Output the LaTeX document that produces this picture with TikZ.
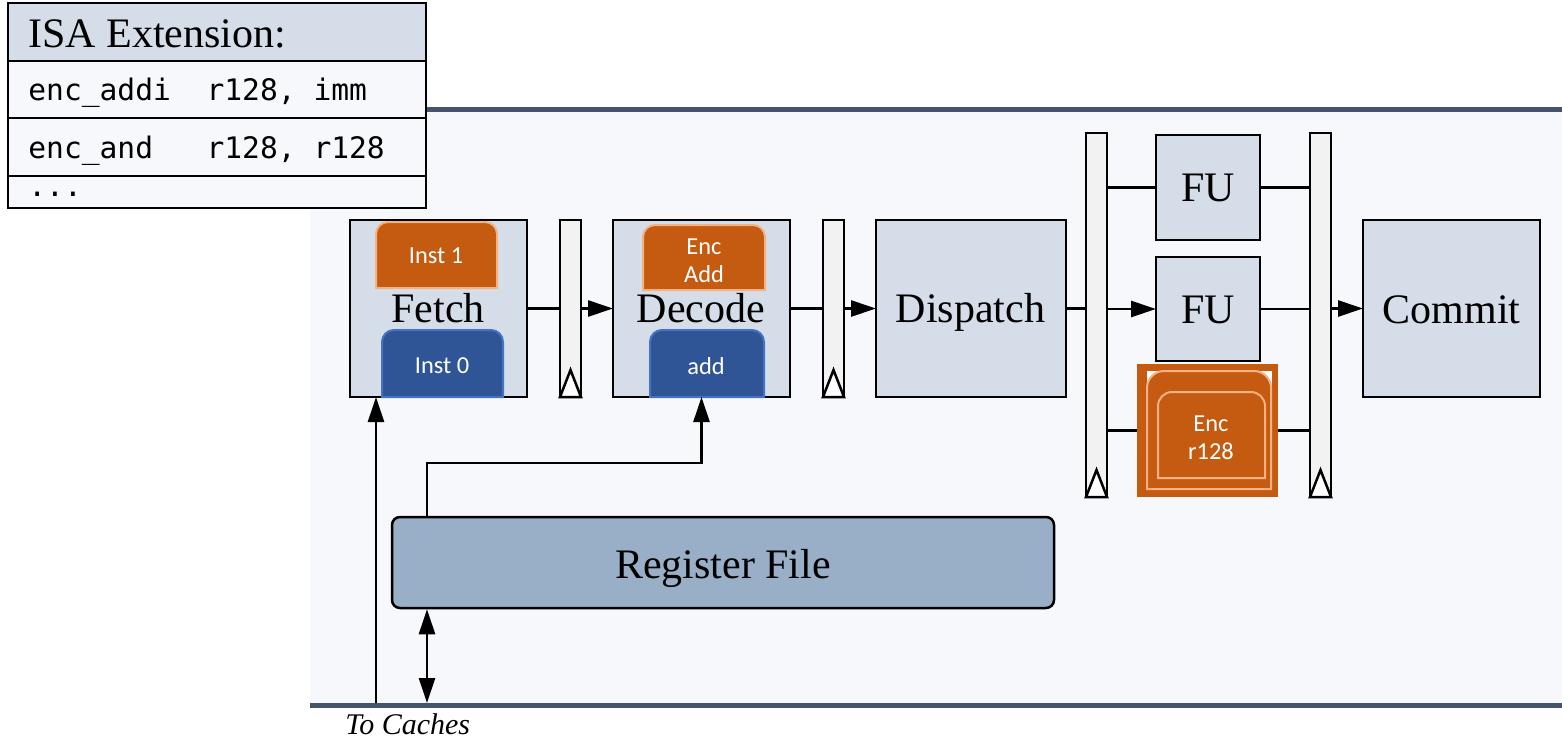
\documentclass[tikz,border=0pt]{standalone}
\usepackage{fontspec}
\setmainfont{Liberation Serif}
\newfontfamily\sansf{Carlito}
\newfontfamily\monof{DejaVu Sans Mono}
\usetikzlibrary{arrows.meta}
\definecolor{panel}{HTML}{F7F8FC}
\definecolor{stagef}{HTML}{D5DEE8}
\definecolor{slate}{HTML}{44546A}
\definecolor{regf}{HTML}{98AFC7}
\definecolor{latchf}{HTML}{F2F2F2}
\definecolor{orng}{HTML}{C55A11}
\definecolor{orngl}{HTML}{F4B183}
\definecolor{blu}{HTML}{2F5597}
\definecolor{blul}{HTML}{4472C4}
\newcommand\tabshape[5]{(#1,#4) -- (#1,#2+#5) arc[start angle=180,end angle=270,radius=#5] -- (#3-#5,#2) arc[start angle=270,end angle=360,radius=#5] -- (#3,#4)}
\begin{document}
\begin{tikzpicture}[x=0.5pt,y=-0.5pt,
 stage/.style={draw=black, fill=stagef, line width=1.25pt, inner sep=0, outer sep=0},
 latch/.style={draw=black, fill=latchf, line width=1.25pt, inner sep=0, outer sep=0, minimum width=10.5pt},
 lbl/.style={font=\fontsize{21}{25}\selectfont, inner sep=0, anchor=base},
 slbl/.style={font=\sansf\fontsize{12.2}{14}\selectfont, text=white, inner sep=0, align=center},
 mono/.style={font=\monof\fontsize{14.8}{17}\selectfont, inner sep=0, anchor=base west},
 tip/.style={line width=1.25pt},
 arr/.style={-{Triangle[length=12.5pt,width=8pt]}, line width=1.3pt},
 darr/.style={{Triangle[length=12.5pt,width=8pt]}-{Triangle[length=12.5pt,width=8pt]}, line width=1.3pt},
 wire/.style={line width=1.3pt},
 orshape/.style={fill=orng, draw=orngl, line width=1pt},
 blshape/.style={fill=blu, draw=blul, line width=1pt}]
\useasboundingbox (0,0) rectangle (1562,739);
\fill[white] (0,0) rectangle (1562,739);
% panel
\fill[panel] (310,109) rectangle (1562,705);
\draw[slate, line width=2.5pt] (310,109) -- (1562,109);
\draw[slate, line width=2.5pt] (310,705) -- (1562,705);
% stages
\node[stage, minimum width=88.5pt, minimum height=88.5pt] (fetch) at (438.5,308.5) {};
\node[stage, minimum width=88.5pt, minimum height=88.5pt] (decode) at (701.5,308.5) {};
\node[stage, minimum width=95pt, minimum height=88.5pt] (dispatch) at (971,308.5) {};
\node[stage, minimum width=88.5pt, minimum height=88.5pt] (commit) at (1451.5,308.5) {};
\node[stage, minimum width=52pt, minimum height=52.5pt] (fu1) at (1208,187.5) {};
\node[stage, minimum width=52pt, minimum height=52pt] (fu2) at (1208,309) {};
% latches
\node[latch, minimum height=88.5pt] (latch1) at (570.5,308.5) {};
\node[latch, minimum height=88.5pt] (latch2) at (833.5,308.5) {};
\node[latch, minimum height=182pt] (latch3) at (1096.5,315) {};
\node[latch, minimum height=182pt] (latch4) at (1320.5,315) {};
\foreach \l in {latch1,latch2,latch3,latch4}
  \filldraw[fill=white, tip] (\l.south west) -- ([yshift=13.5pt]\l.south) -- (\l.south east) -- cycle;
% register file
\node[draw=black, fill=regf, rounded corners=4pt, minimum width=331pt, minimum height=45.5pt, line width=1.25pt, inner sep=0] (reg) at (723,562.5) {};
% labels
\node[lbl] (fetcht) at (438,322) {Fetch};
\node[lbl] (decodet) at (701,322) {Decode};
\node[lbl] (dispatcht) at (970.5,322) {Dispatch};
\node[lbl] (committ) at (1451.5,323) {Commit};
\node[lbl] (fu1t) at (1208,201) {FU};
\node[lbl] (fu2t) at (1208,323) {FU};
\node[lbl] (regt) at (723,578) {Register File};
% instruction tabs
\filldraw[orshape] \tabshape{376}{222}{497}{288}{12} -- cycle;
\filldraw[blshape] \tabshape{382}{330}{503}{397}{12} -- cycle;
\filldraw[orshape] \tabshape{643}{225}{765}{290}{12} -- cycle;
\filldraw[blshape] \tabshape{650}{330}{764}{397}{12} -- cycle;
\node[slbl, anchor=base] (inst1) at (436,263) {Inst 1};
\node[slbl, anchor=base] (inst0) at (442,373) {Inst 0};
\node[slbl] (encadd) at (704,261) {Enc\\Add};
\node[slbl, anchor=base] (addt) at (706,374) {add};
% enc r128 unit
\node[fill=orng, minimum width=70.5pt, minimum height=66.5pt, inner sep=0, outer sep=0] (enc) at (1207.5,430.5) {};
\fill[white] (1147,371) rectangle (1272,395);
\filldraw[orshape] \tabshape{1147}{371}{1271}{489}{17} -- cycle;
\draw[orngl, line width=1pt] \tabshape{1158}{392}{1265}{478}{14} -- cycle;
\node[slbl] (enct) at (1211,438) {Enc\\r128};
% connectors
\draw[wire] (fetch.east) -- (latch1.west);
\draw[arr] (latch1.east) -- (decode.west);
\draw[wire] (decode.east) -- (latch2.west);
\draw[arr] (latch2.east) -- (dispatch.west);
\draw[wire] (dispatch.east) -- (latch3.west |- dispatch.east);
\draw[wire] (latch3.east |- fu1.west) -- (fu1.west);
\draw[arr] (latch3.east |- fu2.west) -- (fu2.west);
\draw[wire] (latch3.east |- enc.west) -- (enc.west);
\draw[wire] (fu1.east) -- (latch4.west |- fu1.east);
\draw[wire] (fu2.east) -- (latch4.west |- fu2.east);
\draw[wire] (enc.east) -- (latch4.west |- enc.east);
\draw[arr] (latch4.east |- commit.west) -- (commit.west);
\coordinate (cf) at (376,703);
\coordinate (cr) at (427,703);
\coordinate (bend) at (427,463);
\draw[arr] (cf) -- (cf |- fetch.south);
\draw[arr] (cr |- reg.north) -- (bend) -| (decode.south);
\draw[darr] (cr |- reg.south) -- (cr);
\node[font=\itshape\fontsize{15}{18}\selectfont, anchor=base west, inner sep=0] (cache) at (345,734) {To Caches};
% ISA table
\fill[stagef] (8,3) rectangle (426,61);
\fill[panel] (8,61) rectangle (426,208);
\draw[line width=1.25pt] (8,3) rectangle (426,208);
\draw[line width=1.25pt] (8,61) -- (426,61);
\draw[line width=1.25pt] (8,118) -- (426,118);
\draw[line width=1.25pt] (8,176) -- (426,176);
\node[lbl, anchor=base west] (isat) at (28,47) {ISA Extension:};
\node[mono] (row1) at (28,100) {enc\_addi\ \ r128,\ imm};
\node[mono] (row2) at (28,158) {enc\_and\ \ \ r128,\ r128};
\node[mono] (row3) at (28,196) {...};
\end{tikzpicture}
\end{document}
